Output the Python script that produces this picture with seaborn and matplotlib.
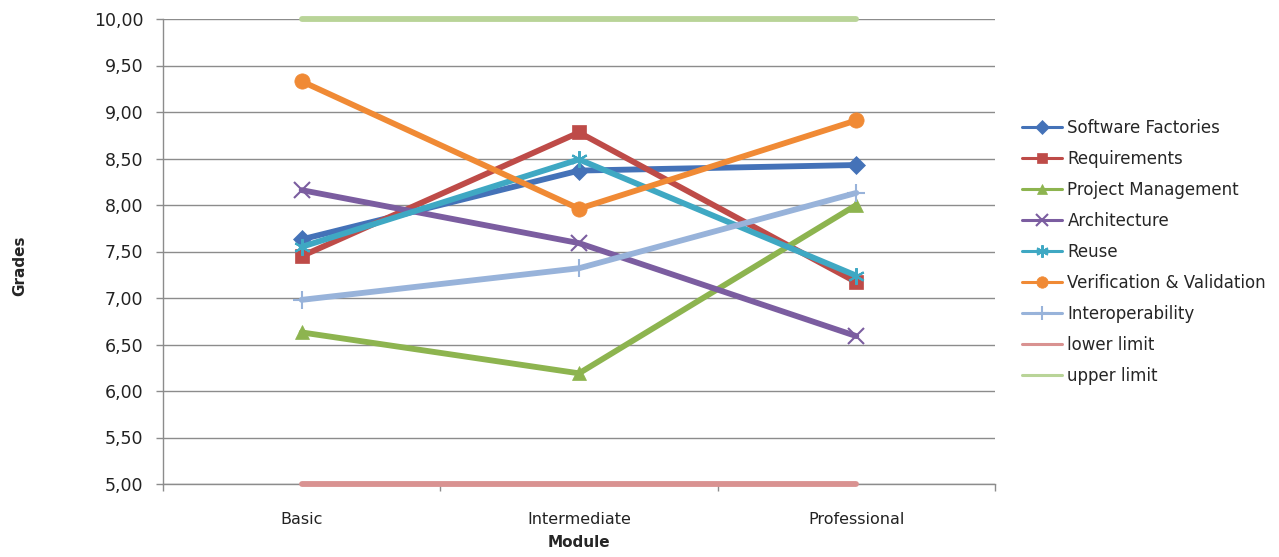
import matplotlib
matplotlib.use("Agg")
import matplotlib.pyplot as plt
import seaborn as sns
import pandas as pd
from matplotlib.ticker import FixedLocator, FuncFormatter

modules = ["Basic", "Intermediate", "Professional"]
software_factories = [7.63, 8.37, 8.43]
requirements = [7.45, 8.78, 7.17]
project_management = [6.63, 6.19, 8.00]
architecture = [8.16, 7.59, 6.59]
reuse = [7.55, 8.49, 7.24]
verification_validation = [9.33, 7.96, 8.91]
interoperability = [6.98, 7.32, 8.13]
lower_limit = [5.0, 5.0, 5.0]
upper_limit = [10.0, 10.0, 10.0]

series = [
    ("Software Factories", software_factories, "#4472B8", "D", 9),
    ("Requirements", requirements, "#BE4B48", "s", 10),
    ("Project Management", project_management, "#8DB44F", "^", 10),
    ("Architecture", architecture, "#7B5DA0", "x", 11),
    ("Reuse", reuse, "#3FA8C3", (6, 2, 0), 12),
    ("Verification & Validation", verification_validation, "#F08A35", "o", 11),
    ("Interoperability", interoperability, "#98B3DA", "+", 13),
    ("lower limit", lower_limit, "#D99291", None, 0),
    ("upper limit", upper_limit, "#B9D498", None, 0),
]

rows = []
for name, vals, *_ in series:
    for i, v in enumerate(vals):
        rows.append({"Module": i, "Grades": v, "Series": name})
df = pd.DataFrame(rows)

sns.set_theme(style="white")
plt.rcParams["font.family"] = ["DejaVu Sans"]

fig = plt.figure(figsize=(12.79, 5.57), dpi=100)
ax = fig.add_axes([163 / 1279, 1 - 484 / 557, (995 - 163) / 1279, (484 - 19) / 557])

for name, vals, color, marker, ms in series:
    sub = df[df["Series"] == name]
    kw = dict(data=sub, x="Module", y="Grades", ax=ax, color=color,
              linewidth=4.2, label=name, clip_on=False, zorder=3)
    if marker is not None:
        kw.update(marker=marker, markersize=ms, markeredgecolor=color,
                  markeredgewidth=1.5 if marker in ("x", "+", (6, 2, 0)) else 0.5)
    sns.lineplot(**kw)

ax.set_xlim(-0.5, 2.5)
ax.set_ylim(5, 10)
ax.set_yticks([5 + 0.5 * i for i in range(11)])
ax.yaxis.set_major_formatter(FuncFormatter(lambda v, p: f"{v:.2f}".replace(".", ",")))
ax.set_xticks(range(len(modules)))
ax.set_xticklabels(modules)
ax.xaxis.set_minor_locator(FixedLocator([-0.5, 0.5, 1.5, 2.5]))
ax.tick_params(axis="x", which="major", length=0, pad=20, labelsize=11.5, colors="#222222")
ax.tick_params(axis="x", which="minor", length=5, width=1, color="#8c8c8c", direction="out", bottom=True)
ax.tick_params(axis="y", which="major", length=5, width=1, color="#8c8c8c", direction="out",
               left=True, labelsize=12.5, colors="#222222", pad=9)

ax.grid(axis="y", color="#8c8c8c", linewidth=1)
ax.grid(axis="x", visible=False)
ax.set_axisbelow(True)
for s in ["top", "right"]:
    ax.spines[s].set_visible(False)
for s in ["left", "bottom"]:
    ax.spines[s].set_color("#8c8c8c")
    ax.spines[s].set_linewidth(1)

ax.set_xlabel("Module", fontsize=11, fontweight="bold", labelpad=6)
ax.set_ylabel("Grades", fontsize=11, fontweight="bold")
ax.yaxis.set_label_coords(-0.163, 0.47)

leg = ax.legend(loc="upper left", bbox_to_anchor=(1.025, 0.80), frameon=False,
                fontsize=12, handlelength=2.4, labelspacing=0.78, handletextpad=0.3,
                borderaxespad=0)
for line in leg.get_lines():
    line.set_linewidth(2.2)
    ms = line.get_markersize()
    line.set_markersize(ms * 0.75)

fig.savefig("out.png", dpi=100)
